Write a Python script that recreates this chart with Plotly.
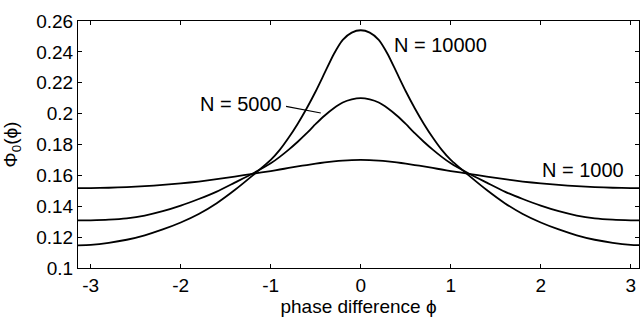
import plotly.graph_objects as go

# phase difference values (x)
phi = [-3.1416, -3.0, -2.8, -2.6, -2.4, -2.2, -2.0, -1.8, -1.6, -1.4, -1.2,
       -1.0, -0.9, -0.8, -0.7, -0.6, -0.5, -0.4, -0.3, -0.2, -0.1, 0.0,
       0.1, 0.2, 0.3, 0.4, 0.5, 0.6, 0.7, 0.8, 0.9, 1.0,
       1.2, 1.4, 1.6, 1.8, 2.0, 2.2, 2.4, 2.6, 2.8, 3.0, 3.1416]

n1000 = [0.1517, 0.1518, 0.1520, 0.1524, 0.1530, 0.1538, 0.1548, 0.1560, 0.1575, 0.1592, 0.1610,
         0.1628, 0.1638, 0.1648, 0.1658, 0.1667, 0.1676, 0.1684, 0.1691, 0.1696, 0.1699, 0.1700,
         0.1699, 0.1696, 0.1691, 0.1684, 0.1676, 0.1667, 0.1658, 0.1648, 0.1638, 0.1628,
         0.1610, 0.1592, 0.1575, 0.1560, 0.1548, 0.1538, 0.1530, 0.1524, 0.1520, 0.1518, 0.1517]

n5000 = [0.1308, 0.1309, 0.1313, 0.1322, 0.1340, 0.1368, 0.1404, 0.1447, 0.1495, 0.1553, 0.1612,
         0.1678, 0.1720, 0.1767, 0.1818, 0.1873, 0.1933, 0.1988, 0.2035, 0.2072, 0.2092, 0.2100,
         0.2092, 0.2072, 0.2035, 0.1988, 0.1933, 0.1873, 0.1818, 0.1767, 0.1720, 0.1678,
         0.1612, 0.1553, 0.1495, 0.1447, 0.1404, 0.1368, 0.1340, 0.1322, 0.1313, 0.1309, 0.1308]

n10000 = [0.1147, 0.1150, 0.1163, 0.1183, 0.1212, 0.1250, 0.1295, 0.1350, 0.1420, 0.1505, 0.1600,
          0.1700, 0.1765, 0.1845, 0.1935, 0.2035, 0.2145, 0.2265, 0.2385, 0.2478, 0.2525, 0.2540,
          0.2525, 0.2478, 0.2385, 0.2265, 0.2145, 0.2035, 0.1935, 0.1845, 0.1765, 0.1700,
          0.1600, 0.1505, 0.1420, 0.1350, 0.1295, 0.1250, 0.1212, 0.1183, 0.1163, 0.1150, 0.1147]

x_tickvals = [-3, -2, -1, 0, 1, 2, 3]
x_ticktext = ["-3", "-2", "-1", "0", "1", "2", "3"]
y_tickvals = [0.1, 0.12, 0.14, 0.16, 0.18, 0.2, 0.22, 0.24, 0.26]
y_ticktext = ["0.1", "0.12", "0.14", "0.16", "0.18", "0.2", "0.22", "0.24", "0.26"]

FONT = "Liberation Sans, Arial, Helvetica, sans-serif"

fig = go.Figure()
for name, ys in [("N = 1000", n1000), ("N = 5000", n5000), ("N = 10000", n10000)]:
    fig.add_trace(go.Scatter(x=phi, y=ys, mode="lines", name=name,
                             line=dict(color="black", width=1.8, shape="spline", smoothing=0.6),
                             showlegend=False, hoverinfo="skip"))

axis_common = dict(showline=True, linecolor="black", linewidth=1, mirror="ticks",
                   ticks="inside", ticklen=4, tickwidth=1, tickcolor="black",
                   showgrid=False, zeroline=False,
                   tickfont=dict(family=FONT, size=19, color="black"))

fig.update_xaxes(range=[-3.1416, 3.0917], tickvals=x_tickvals, ticktext=x_ticktext,
                 title=dict(text="phase difference ϕ", font=dict(family=FONT, size=19, color="black"),
                            standoff=4),
                 **axis_common)
fig.update_yaxes(range=[0.1, 0.26], tickvals=y_tickvals, ticktext=y_ticktext,
                 title=dict(text="Φ<sub>0</sub>(ϕ)", font=dict(family=FONT, size=19, color="black"),
                            standoff=14),
                 **axis_common)

ann_font = dict(family=FONT, size=20, color="black")
fig.add_annotation(x=0.881, y=0.2445, text="N = 10000", showarrow=False,
                   xanchor="center", yanchor="middle", font=ann_font)
fig.add_annotation(x=-1.336, y=0.2062, text="N = 5000", showarrow=False,
                   xanchor="center", yanchor="middle", font=ann_font)
fig.add_annotation(x=2.464, y=0.1634, text="N = 1000", showarrow=False,
                   xanchor="center", yanchor="middle", font=ann_font)
fig.add_shape(type="line", x0=-0.83, y0=0.2047, x1=-0.444, y1=0.2004,
              line=dict(color="black", width=1.2), xref="x", yref="y")

fig.update_layout(width=640, height=322, margin=dict(l=78, r=1, t=21, b=54),
                  plot_bgcolor="white", paper_bgcolor="white")

fig.write_html("out.html")
